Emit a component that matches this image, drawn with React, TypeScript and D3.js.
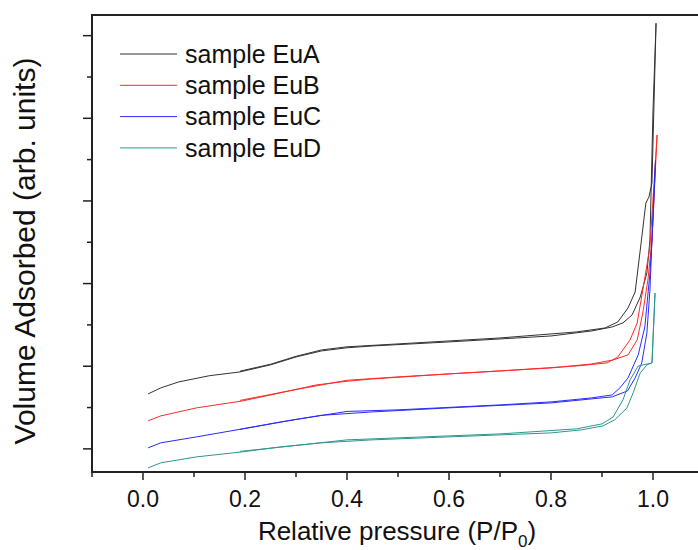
import * as d3 from "d3";

// relative pressure / volume pairs (arb. units)
const euA_ads: [number, number][] = [
  [0.01, 66.5], [0.035, 73.8], [0.07, 81], [0.13, 88.5], [0.19, 93.1], [0.25, 101.6],
  [0.3, 111.2], [0.35, 118.5], [0.4, 122.3], [0.45, 124.5], [0.6, 129.4], [0.8, 136.6],
  [0.88, 142.7], [0.92, 147.5], [0.941, 152.4], [0.959, 162], [0.975, 183.8],
  [0.988, 212.8], [0.994, 252.7], [1.0, 409.9], [1.006, 515],
];
const euA_des: [number, number][] = [
  [1.006, 515], [0.998, 321.6], [0.992, 304.7], [0.986, 297.5], [0.975, 240.6],
  [0.965, 189.8], [0.951, 170.5], [0.931, 153.6], [0.906, 146.3], [0.85, 141.5],
  [0.7, 134.2], [0.5, 127], [0.4, 123.5], [0.35, 119.7], [0.3, 112], [0.25, 102.4], [0.19, 94],
];
const euB_ads: [number, number][] = [
  [0.01, 33.9], [0.035, 39.9], [0.105, 49.6], [0.195, 58], [0.26, 66.5], [0.34, 77.4],
  [0.4, 81.8], [0.45, 84.6], [0.6, 90.7], [0.8, 97.9], [0.88, 102.8], [0.922, 107.6],
  [0.951, 113.7], [0.969, 131.8], [0.98, 164.4], [0.99, 204.3], [0.998, 252.7], [1.008, 379.7],
];
const euB_des: [number, number][] = [
  [1.008, 379.7], [0.994, 244.3], [0.98, 192.3], [0.969, 152.4], [0.955, 131.8],
  [0.931, 111.2], [0.91, 104], [0.85, 100.3], [0.7, 94.3], [0.5, 87.1], [0.4, 83],
  [0.3, 71.8], [0.19, 58.6],
];
const euC_ads: [number, number][] = [
  [0.01, 1.2], [0.035, 7.3], [0.105, 14.5], [0.195, 24.2], [0.27, 32.6], [0.35, 40.6],
  [0.45, 44.7], [0.6, 49.6], [0.8, 55.6], [0.88, 60.5], [0.92, 62.9], [0.95, 70.1],
  [0.965, 85.8], [0.978, 104], [0.988, 140.2], [0.994, 192.3], [0.998, 252.7], [1.005, 349.4],
];
const euC_des: [number, number][] = [
  [1.005, 349.4], [0.998, 252.7], [0.994, 212.8], [0.984, 147.5], [0.971, 113.7],
  [0.951, 85.8], [0.935, 73.7], [0.92, 65.3], [0.88, 61.7], [0.8, 56.8], [0.7, 53.2],
  [0.5, 47.2], [0.4, 45.3], [0.3, 35.6], [0.19, 23.6],
];
const euD_ads: [number, number][] = [
  [0.01, -23], [0.035, -16.9], [0.105, -9.7], [0.195, -3.6], [0.27, 2.4], [0.35, 7.3],
  [0.45, 10.9], [0.6, 14.5], [0.8, 19.3], [0.86, 23], [0.902, 27.8], [0.925, 35.1],
  [0.949, 49.6], [0.961, 67.7], [0.975, 91.9], [0.988, 101.6], [0.998, 104], [1.004, 188.6],
];
const euD_des: [number, number][] = [
  [1.004, 188.6], [0.998, 104], [0.971, 100.3], [0.955, 83.4], [0.941, 59.2],
  [0.922, 38.7], [0.9, 30.2], [0.85, 24.2], [0.7, 18.1], [0.5, 13.3], [0.4, 10.9],
  [0.3, 4.1], [0.19, -3.1],
];

const sampleNames = ["sample EuA", "sample EuB", "sample EuC", "sample EuD"];
const sampleColors = ["#333333", "#ff2a2a", "#2a2aff", "#2e9690"];
const sampleData = [
  [euA_ads, euA_des],
  [euB_ads, euB_des],
  [euC_ads, euC_des],
  [euD_ads, euD_des],
];
const xTicks = [0, 0.2, 0.4, 0.6, 0.8, 1.0];
const xMinor = [-0.1, 0.1, 0.3, 0.5, 0.7, 0.9, 1.1];
const yTicks = [0, 100, 200, 300, 400, 500];
const yMinor = [50, 150, 250, 350, 450];

const W = 698, H = 550;
const left = 92, right = 704, top = 15, bottom = 472;
const font = "'Liberation Sans', Arial, sans-serif";

export default function App() {
  const x = d3.scaleLinear().domain([-0.1, 1.1]).range([left, right]);
  const y = d3.scaleLinear().domain([-28, 525]).range([bottom, top]);
  const line = d3.line<[number, number]>().x(d => x(d[0])).y(d => y(d[1]));

  return (
    <svg width={W} height={H} style={{ position: "absolute", left: 0, top: 0 }} fontFamily={font}>
      <rect x={0} y={0} width={W} height={H} fill="#fff" />
      {sampleData.map((branches, i) =>
        branches.map((b, j) => (
          <path key={`${i}-${j}`} d={line(b) || ""} fill="none" stroke={sampleColors[i]} strokeWidth={1} />
        ))
      )}
      <rect x={left} y={top} width={right - left} height={bottom - top} fill="none" stroke="#222" strokeWidth={2} />
      {xTicks.map(t => (
        <g key={t}>
          <line x1={x(t)} x2={x(t)} y1={bottom} y2={bottom + 8} stroke="#222" strokeWidth={1.5} />
          <text x={x(t)} y={507} fontSize={23} textAnchor="middle" fill="#111">{d3.format(".1f")(t)}</text>
        </g>
      ))}
      {xMinor.map(t => (
        <line key={t} x1={x(t)} x2={x(t)} y1={bottom} y2={bottom + 5} stroke="#222" strokeWidth={1.5} />
      ))}
      {yTicks.map(t => (
        <line key={t} x1={left - 9} x2={left} y1={y(t)} y2={y(t)} stroke="#222" strokeWidth={1.5} />
      ))}
      {yMinor.map(t => (
        <line key={t} x1={left - 5} x2={left} y1={y(t)} y2={y(t)} stroke="#222" strokeWidth={1.5} />
      ))}
      <text x={397} y={540} fontSize={26} textAnchor="middle" fill="#111">
        Relative pressure (P/P<tspan fontSize={17} dy={7}>0</tspan><tspan dy={-7}>)</tspan>
      </text>
      <text transform={`translate(35, 251) rotate(-90)`} fontSize={30} textAnchor="middle" fill="#111">
        Volume Adsorbed (arb. units)
      </text>
      {sampleNames.map((n, i) => {
        const ly = 54 + i * 31.3;
        return (
          <g key={n}>
            <line x1={120} x2={177} y1={ly} y2={ly} stroke={sampleColors[i]} strokeWidth={1} />
            <text x={185} y={ly} dy="0.35em" fontSize={25} fill="#111">{n}</text>
          </g>
        );
      })}
    </svg>
  );
}
